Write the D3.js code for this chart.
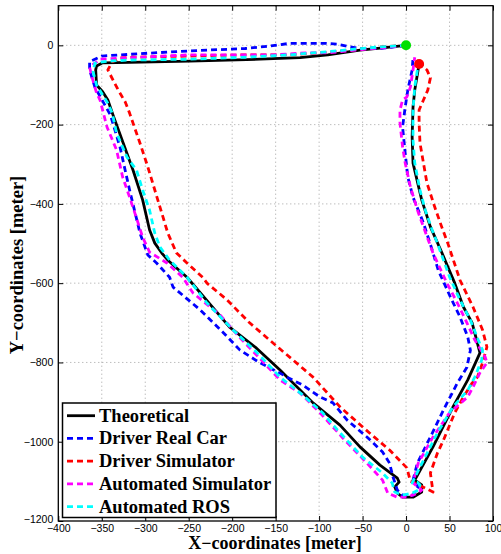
<!DOCTYPE html>
<html><head><meta charset="utf-8">
<script src="https://cdn.jsdelivr.net/npm/d3@7"></script>
<style>body{margin:0;background:#fff}svg{display:block}</style>
</head><body><svg id="c" width="501" height="554"></svg>
<script>
const xTicks = [-400,-350,-300,-250,-200,-150,-100,-50,0,50,100];
const yTicks = [-1200,-1000,-800,-600,-400,-200,0];
const seriesNames = ["Theoretical","Driver Real Car","Driver Simulator","Automated Simulator","Automated ROS"];
const seriesColors = ["#000000","#0000ff","#ff0000","#ff00ff","#00ffff"];

const theoretical = [[0,0],[-30,-7],[-53,-12],[-90,-24],[-122,-31],[-168,-35],[-249,-40],[-318,-43],[-349,-44],[-356,-52],[-357,-62],[-356,-100],[-349,-117],[-343,-138],[-337,-176],[-314,-315],[-303,-390],[-295,-466],[-289,-499],[-281,-524],[-274,-542],[-252,-585],[-203,-711],[-172,-764],[-145,-819],[-107,-902],[-76,-958],[-53,-1013],[-30,-1059],[-10,-1092],[-8,-1102],[-13,-1114],[-10,-1130],[-4,-1140],[8,-1140],[18,-1127],[18,-1109],[10,-1097],[31,-1013],[54,-912],[71,-844],[85,-776],[76,-700],[66,-660],[56,-600],[48,-559],[41,-522],[28,-458],[18,-390],[8,-297],[7,-231],[8,-156],[10,-113],[15,-47]];

const driverRealCar = [[0,0],[-30,-8],[-53,-8],[-68,-2],[-79,3],[-93,5],[-134,5],[-157,-2],[-185,-8],[-249,-14],[-298,-20],[-350,-27],[-364,-41],[-364,-62],[-358,-105],[-340,-176],[-329,-257],[-318,-365],[-306,-474],[-297,-529],[-287,-549],[-272,-585],[-268,-610],[-237,-667],[-211,-723],[-191,-769],[-168,-801],[-145,-827],[-137,-837],[-119,-857],[-99,-887],[-84,-902],[-68,-945],[-45,-988],[-27,-1026],[-19,-1054],[-15,-1089],[-10,-1122],[-4,-1135],[8,-1135],[14,-1114],[8,-1097],[13,-1054],[28,-988],[43,-920],[59,-852],[70,-812],[74,-769],[71,-736],[62,-685],[51,-635],[37,-567],[30,-516],[20,-448],[8,-383],[2,-332],[-1,-272],[-4,-206],[-1,-156],[2,-113],[7,-62],[8,-32]];

const driverSimulator = [[0,0],[-30,-4],[-87,-17],[-134,-24],[-185,-24],[-249,-27],[-314,-30],[-329,-32],[-338,-42],[-343,-62],[-337,-88],[-331,-113],[-323,-143],[-318,-171],[-306,-247],[-297,-307],[-289,-365],[-281,-423],[-274,-474],[-264,-524],[-252,-549],[-234,-585],[-229,-600],[-206,-642],[-180,-700],[-153,-751],[-130,-794],[-107,-837],[-76,-912],[-42,-978],[-19,-1021],[1,-1066],[5,-1100],[10,-1104],[31,-1127],[28,-1079],[36,-1029],[43,-996],[56,-927],[66,-887],[76,-852],[82,-837],[88,-801],[93,-761],[88,-718],[77,-660],[62,-592],[48,-499],[41,-458],[33,-408],[24,-347],[20,-297],[16,-246],[15,-196],[15,-163],[20,-138],[25,-113],[28,-82],[24,-62],[18,-50]];

const automatedSimulator = [[0,0],[-57,-12],[-91,-19],[-114,-19],[-153,-24],[-185,-24],[-249,-24],[-326,-32],[-352,-35],[-364,-55],[-361,-82],[-356,-120],[-352,-138],[-344,-206],[-333,-264],[-326,-332],[-318,-383],[-310,-436],[-303,-484],[-295,-522],[-275,-549],[-257,-585],[-245,-625],[-214,-680],[-191,-738],[-172,-781],[-145,-844],[-122,-877],[-99,-927],[-79,-975],[-73,-990],[-45,-1054],[-27,-1097],[-21,-1130],[-10,-1140],[1,-1140],[13,-1130],[18,-1122],[8,-1104],[14,-1054],[31,-988],[50,-927],[71,-887],[77,-862],[85,-826],[93,-801],[91,-786],[79,-743],[70,-700],[59,-650],[47,-600],[31,-524],[20,-458],[13,-415],[5,-357],[-1,-297],[-4,-256],[-7,-196],[-7,-163],[-4,-138],[1,-130],[5,-105],[8,-62],[10,-30]];

const automatedROS = [[0,0],[-30,-4],[-57,-9],[-79,-14],[-107,-19],[-134,-24],[-185,-30],[-249,-35],[-318,-37],[-344,-40],[-358,-45],[-360,-67],[-356,-100],[-349,-125],[-343,-146],[-338,-171],[-333,-221],[-321,-282],[-310,-315],[-303,-365],[-295,-416],[-289,-474],[-283,-509],[-272,-542],[-252,-585],[-229,-650],[-199,-718],[-172,-774],[-145,-837],[-119,-882],[-96,-927],[-79,-970],[-50,-1039],[-27,-1079],[-16,-1104],[-13,-1127],[-4,-1135],[7,-1130],[14,-1122],[16,-1109],[13,-1102],[7,-1104],[16,-1064],[36,-978],[54,-912],[71,-870],[79,-837],[87,-794],[88,-769],[83,-743],[74,-693],[62,-642],[50,-584],[36,-499],[30,-466],[22,-415],[16,-365],[10,-297],[8,-239],[8,-163],[10,-105],[13,-62],[15,-47]];

const startPoint = [0,0];
const endPoint = [15,-47];

const allSeries = [theoretical, driverRealCar, driverSimulator, automatedSimulator, automatedROS];

const svg = d3.select("#c");
const L = 58.3, R = 493, T = 5.7, B = 521;
const x = d3.scaleLinear().domain([-400,100]).range([L,R]);
const y = d3.scaleLinear().domain([-1200,100]).range([B,T]);
const fmt = d => d < 0 ? "\u2212" + Math.abs(d) : String(d);

// grid
const g = svg.append("g");
g.selectAll(".gx").data(xTicks.slice(1,-1)).join("line")
  .attr("x1", d=>x(d)).attr("x2", d=>x(d)).attr("y1", T).attr("y2", B)
  .attr("stroke","#8a8a8a").attr("stroke-width",0.8).attr("stroke-dasharray","1,3");
g.selectAll(".gy").data(yTicks.slice(1)).join("line")
  .attr("y1", d=>y(d)).attr("y2", d=>y(d)).attr("x1", L).attr("x2", R)
  .attr("stroke","#8a8a8a").attr("stroke-width",0.8).attr("stroke-dasharray","1,3");

// axes
const font = "'Liberation Sans', Arial, sans-serif";
const xAxisB = d3.axisBottom(x).tickValues(xTicks).tickFormat(fmt).tickSizeInner(-5).tickSizeOuter(0).tickPadding(4);
const xAxisT = d3.axisTop(x).tickValues(xTicks).tickFormat("").tickSizeInner(-5).tickSizeOuter(0);
const yAxisL = d3.axisLeft(y).tickValues(yTicks).tickFormat(fmt).tickSizeInner(-5).tickSizeOuter(0).tickPadding(5);
const yAxisR = d3.axisRight(y).tickValues(yTicks).tickFormat("").tickSizeInner(-5).tickSizeOuter(0);
function styleAxis(sel){
  sel.select(".domain").remove();
  sel.selectAll("line").attr("stroke","#000").attr("stroke-width",1);
  sel.selectAll("text").attr("font-family",font).attr("font-size",10.5).attr("fill","#000");
}
svg.append("g").attr("transform",`translate(0,${B})`).call(xAxisB).call(styleAxis);
svg.append("g").attr("transform",`translate(0,${T})`).call(xAxisT).call(styleAxis);
const yl = svg.append("g").attr("transform",`translate(${L},0)`).call(yAxisL).call(styleAxis);
yl.selectAll("text").attr("dy", d => d === -1200 ? "0.15em" : "0.32em");
svg.append("g").attr("transform",`translate(${R},0)`).call(yAxisR).call(styleAxis);
svg.append("rect").attr("x",L).attr("y",T).attr("width",R-L).attr("height",B-T)
  .attr("fill","none").attr("stroke","#000").attr("stroke-width",1.3);

// series
const line = d3.line().x(d=>x(d[0])).y(d=>y(d[1]));
allSeries.forEach((s,i)=>{
  svg.append("path").datum(s).attr("d",line).attr("fill","none")
    .attr("stroke",seriesColors[i]).attr("stroke-width",2.8)
    .attr("stroke-linejoin","round")
    .attr("stroke-dasharray", i===0 ? null : "6,4");
});
svg.append("circle").attr("cx",x(startPoint[0])).attr("cy",y(startPoint[1])).attr("r",5).attr("fill","#00e000");
svg.append("circle").attr("cx",x(endPoint[0])).attr("cy",y(endPoint[1])).attr("r",5).attr("fill","#ff0000");

// axis labels
const serif = "'Liberation Serif','Times New Roman',serif";
svg.append("text").attr("x",275).attr("y",549).attr("text-anchor","middle")
  .attr("font-family",serif).attr("font-weight","bold").attr("font-size",18).text("X\u2212coordinates [meter]");
svg.append("text").attr("transform","translate(23,265) rotate(-90)").attr("text-anchor","middle")
  .attr("font-family",serif).attr("font-weight","bold").attr("font-size",18.5).text("Y\u2212coordinates [meter]");

// legend
const lg = svg.append("g");
lg.append("rect").attr("x",62.5).attr("y",403).attr("width",213.5).attr("height",114.5)
  .attr("fill","#fff").attr("stroke","#000").attr("stroke-width",1.5);
seriesNames.forEach((n,i)=>{
  const cy = 415.7 + i*22.75;
  lg.append("line").attr("x1",67).attr("x2",95).attr("y1",cy).attr("y2",cy)
    .attr("stroke",seriesColors[i]).attr("stroke-width",2.8)
    .attr("stroke-dasharray", i===0 ? null : "6,4");
  lg.append("text").attr("x",99).attr("y",cy+6).attr("font-family",serif)
    .attr("font-weight","bold").attr("font-size",18.5).text(n);
});
</script></body></html>
